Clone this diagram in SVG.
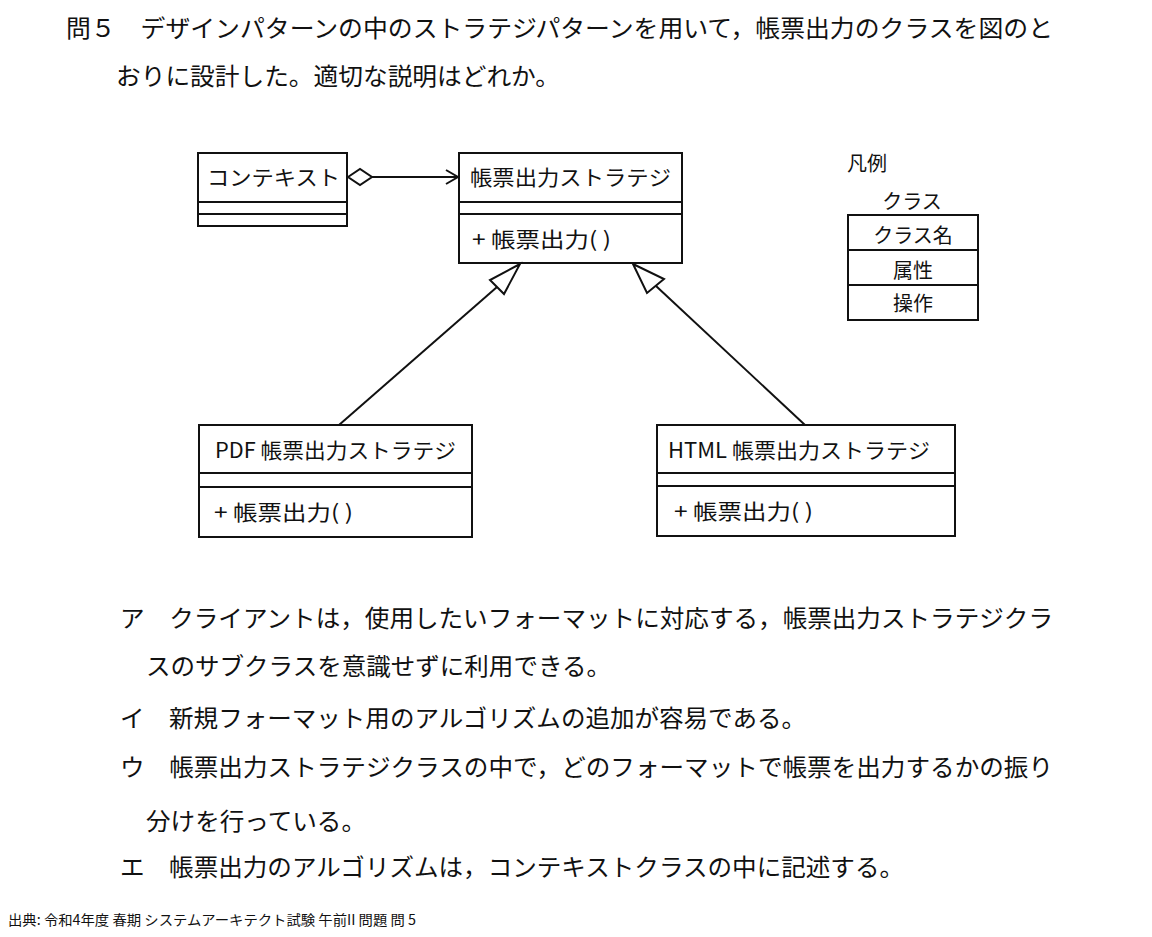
<svg xmlns="http://www.w3.org/2000/svg" width="1152" height="937" viewBox="0 0 1152 937">
<style>
text{font-family:"Noto Sans CJK JP","Noto Sans",sans-serif;fill:#111}
.q{font-size:24px}
.d{font-size:21px}
.box{fill:#fff;stroke:#111;stroke-width:2}
.ln{stroke:#111;stroke-width:2;fill:none}
.ft{font-size:14px}
</style>
<rect width="1152" height="937" fill="#fff"/>
<g id="question">
<text class="q" x="66" y="37" textLength="987" lengthAdjust="spacingAndGlyphs">問５　デザインパターンの中のストラテジパターンを用いて，帳票出力のクラスを図のと</text>
<text class="q" x="116" y="85" textLength="444" lengthAdjust="spacingAndGlyphs">おりに設計した。適切な説明はどれか。</text>
</g>
<g id="context">
<rect class="box" x="198" y="153" width="149" height="73"/>
<line class="ln" x1="198" y1="202" x2="347" y2="202"/>
<line class="ln" x1="198" y1="214" x2="347" y2="214"/>
<text class="d" x="207" y="185" textLength="133" lengthAdjust="spacingAndGlyphs">コンテキスト</text>
</g>
<g id="strategy">
<rect class="box" x="459" y="153" width="223" height="110"/>
<line class="ln" x1="459" y1="202" x2="682" y2="202"/>
<line class="ln" x1="459" y1="214" x2="682" y2="214"/>
<text class="d" x="470" y="185" textLength="201" lengthAdjust="spacingAndGlyphs">帳票出力ストラテジ</text>
<text class="d" x="472" y="247" textLength="139" lengthAdjust="spacingAndGlyphs">+ 帳票出力( )</text>
</g>
<g id="pdf">
<rect class="box" x="199" y="425" width="273" height="112"/>
<line class="ln" x1="199" y1="473" x2="472" y2="473"/>
<line class="ln" x1="199" y1="487" x2="472" y2="487"/>
<text class="d" x="215" y="458" textLength="241" lengthAdjust="spacingAndGlyphs">PDF 帳票出力ストラテジ</text>
<text class="d" x="214" y="520" textLength="139" lengthAdjust="spacingAndGlyphs">+ 帳票出力( )</text>
</g>
<g id="html">
<rect class="box" x="657" y="425" width="298" height="111"/>
<line class="ln" x1="657" y1="473" x2="955" y2="473"/>
<line class="ln" x1="657" y1="486" x2="955" y2="486"/>
<text class="d" x="668" y="458" textLength="262" lengthAdjust="spacingAndGlyphs">HTML 帳票出力ストラテジ</text>
<text class="d" x="674" y="519" textLength="139" lengthAdjust="spacingAndGlyphs">+ 帳票出力( )</text>
</g>
<g id="legend">
<text x="847" y="171" style="font-size:20px">凡例</text>
<text x="912" y="209" style="font-size:20px" text-anchor="middle">クラス</text>
<rect class="box" x="848" y="215" width="130" height="105"/>
<line class="ln" x1="848" y1="250" x2="978" y2="250"/>
<line class="ln" x1="848" y1="285" x2="978" y2="285"/>
<text x="913" y="243" style="font-size:20px" text-anchor="middle">クラス名</text>
<text x="913" y="278" style="font-size:20px" text-anchor="middle">属性</text>
<text x="913" y="311" style="font-size:20px" text-anchor="middle">操作</text>
</g>
<g id="connectors">
<polygon class="ln" points="348,177 360,169 372,177 360,185"/>
<line class="ln" x1="372" y1="177" x2="458" y2="177"/>
<polyline class="ln" points="446,170 458,177 446,184"/>
<polygon class="ln" points="520,264 490,280 504,294"/>
<line class="ln" x1="497" y1="287" x2="339" y2="425"/>
<polygon class="ln" points="633,264 647,293 664,279"/>
<line class="ln" x1="656" y1="286" x2="805" y2="425"/>
</g>
<g id="options">
<text class="q" x="120" y="627" textLength="933" lengthAdjust="spacingAndGlyphs">ア　クライアントは，使用したいフォーマットに対応する，帳票出力ストラテジクラ</text>
<text class="q" x="146" y="675" textLength="465" lengthAdjust="spacingAndGlyphs">スのサブクラスを意識せずに利用できる。</text>
<text class="q" x="120" y="727" textLength="686" lengthAdjust="spacingAndGlyphs">イ　新規フォーマット用のアルゴリズムの追加が容易である。</text>
<text class="q" x="120" y="776" textLength="933" lengthAdjust="spacingAndGlyphs">ウ　帳票出力ストラテジクラスの中で，どのフォーマットで帳票を出力するかの振り</text>
<text class="q" x="146" y="830" textLength="220" lengthAdjust="spacingAndGlyphs">分けを行っている。</text>
<text class="q" x="120" y="876" textLength="784" lengthAdjust="spacingAndGlyphs">エ　帳票出力のアルゴリズムは，コンテキストクラスの中に記述する。</text>
</g>
<text class="ft" x="8" y="925" textLength="408" lengthAdjust="spacingAndGlyphs">出典: 令和4年度 春期 システムアーキテクト試験 午前II 問題 問  5</text>
</svg>
